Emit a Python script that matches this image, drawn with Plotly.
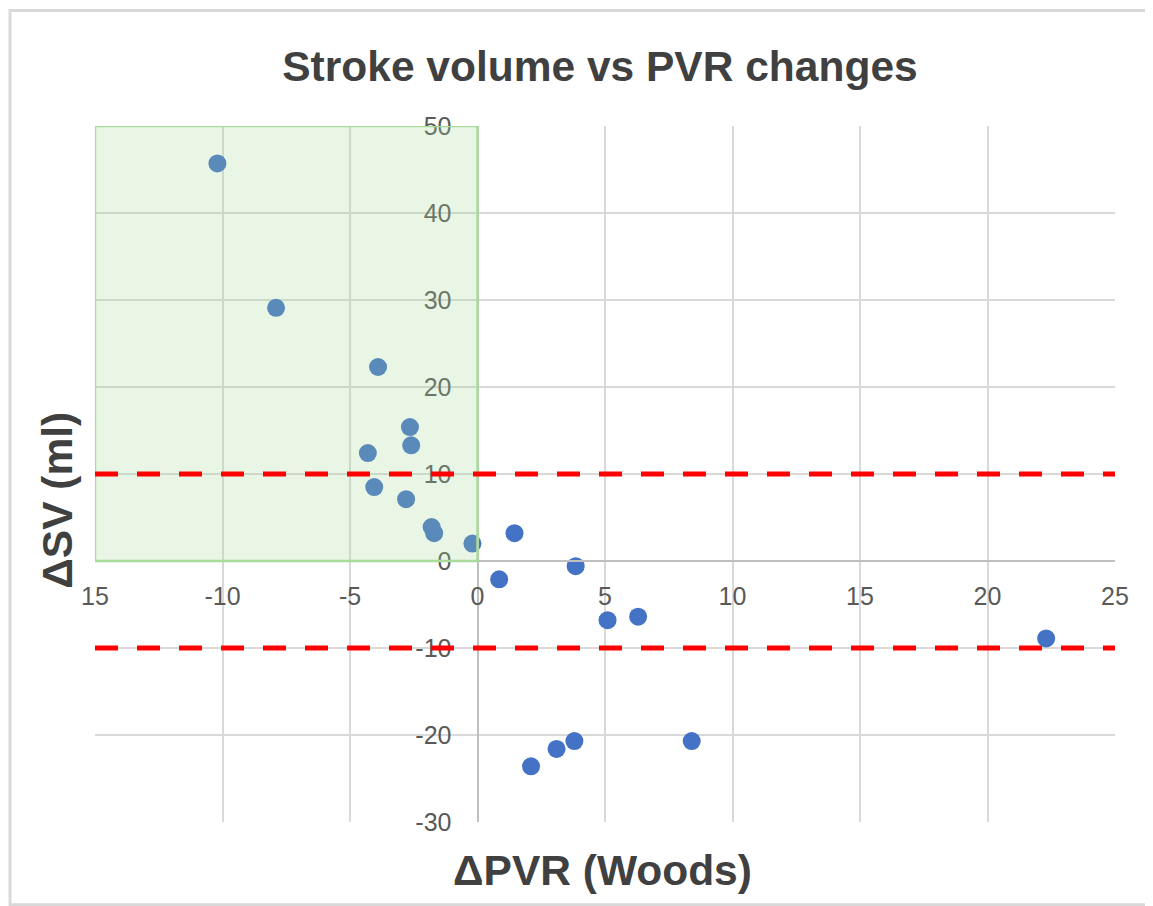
import plotly.graph_objects as go

# Изменения PVR (Woods) и SV (ml)
d_pvr = [-10.2, -7.9, -3.9, -2.65, -2.6, -4.3, -4.05, -2.8, -1.8, -1.7, -0.2,
         1.45, 0.85, 3.85, 5.1, 6.3, 2.1, 3.1, 3.8, 8.4, 22.3]
d_sv = [45.7, 29.1, 22.3, 15.4, 13.3, 12.4, 8.5, 7.1, 3.9, 3.2, 2.0,
        3.2, -2.1, -0.6, -6.8, -6.4, -23.6, -21.6, -20.7, -20.7, -8.9]

x_ticks = [-15, -10, -5, 0, 5, 10, 15, 20, 25]
x_labels = ["15", "-10", "-5", "0", "5", "10", "15", "20", "25"]
y_ticks = [-30, -20, -10, 0, 10, 20, 30, 40, 50]
y_labels = ["-30", "-20", "-10", "0", "10", "20", "30", "40", "50"]

sv_limits = [10, -10]  # пороги изменения SV

TEXT = "#404040"
GRID = "#D9D9D9"
AXIS = "#BFBFBF"
tick_font = dict(family="Liberation Sans", size=25, color="#595959")

fig = go.Figure()
fig.add_trace(go.Scatter(
    x=d_pvr, y=d_sv, mode="markers",
    marker=dict(size=18, color="#4472C4"),
    showlegend=False,
))

# Зелёная область: PVR снизился, SV вырос
fig.add_shape(type="rect", xref="x", yref="y", x0=-15, x1=0, y0=0, y1=50,
              fillcolor="rgba(165,218,150,0.24)",
              line=dict(color="#A9DB9A", width=2.5), layer="above")

for lim in sv_limits:
    fig.add_shape(type="line", xref="x", yref="y", x0=-15, x1=25, y0=lim, y1=lim,
                  line=dict(color="#FF0000", width=5, dash="23px,19px"), layer="above")

# Рамка всей диаграммы (правый край уходит за картинку)
fig.add_shape(type="path", xref="paper", yref="paper",
              path="M 1.2,1.166 L -0.0833,1.166 L -0.0833,-0.119 L 1.2,-0.119",
              line=dict(color=GRID, width=3), layer="below")

fig.update_xaxes(
    range=[-15, 25], tickvals=x_ticks, ticktext=x_labels,
    showgrid=True, gridcolor=GRID, gridwidth=2, zeroline=False,
    anchor="free", position=0.375,
    showline=True, linecolor=AXIS, linewidth=2,
    ticks="outside", ticklen=13, tickcolor="rgba(0,0,0,0)",
    tickfont=tick_font,
)
fig.update_yaxes(
    range=[-30, 50], tickvals=y_ticks, ticktext=y_labels,
    showgrid=True, gridcolor=GRID, gridwidth=2, zeroline=False,
    anchor="free", position=0.375,
    showline=True, linecolor=AXIS, linewidth=2,
    ticks="outside", ticklen=20, tickcolor="rgba(0,0,0,0)",
    tickfont=tick_font,
)

fig.add_annotation(text="<b>ΔSV (ml)</b>", xref="paper", yref="paper",
                   x=-0.0363, y=0.463, xanchor="center", yanchor="middle",
                   textangle=-90, showarrow=False,
                   font=dict(family="Liberation Sans", size=42.5, color=TEXT))
fig.add_annotation(text="<b>ΔPVR (Woods)</b>", xref="paper", yref="paper",
                   x=0.498, y=-0.069, xanchor="center", yanchor="middle",
                   showarrow=False,
                   font=dict(family="Liberation Sans", size=42.5, color=TEXT))

# страница добавляет отступ 8px, поэтому фигура чуть меньше окна
fig.update_layout(
    width=1145, height=898,
    margin=dict(l=87, r=38, t=118, b=84),
    paper_bgcolor="white", plot_bgcolor="white",
    title=dict(text="<b>Stroke volume vs PVR changes</b>", x=0.517, xanchor="center",
               y=0.9354, yanchor="middle",
               font=dict(family="Liberation Sans", size=42.5, color=TEXT)),
)

fig.write_html("out.html")
